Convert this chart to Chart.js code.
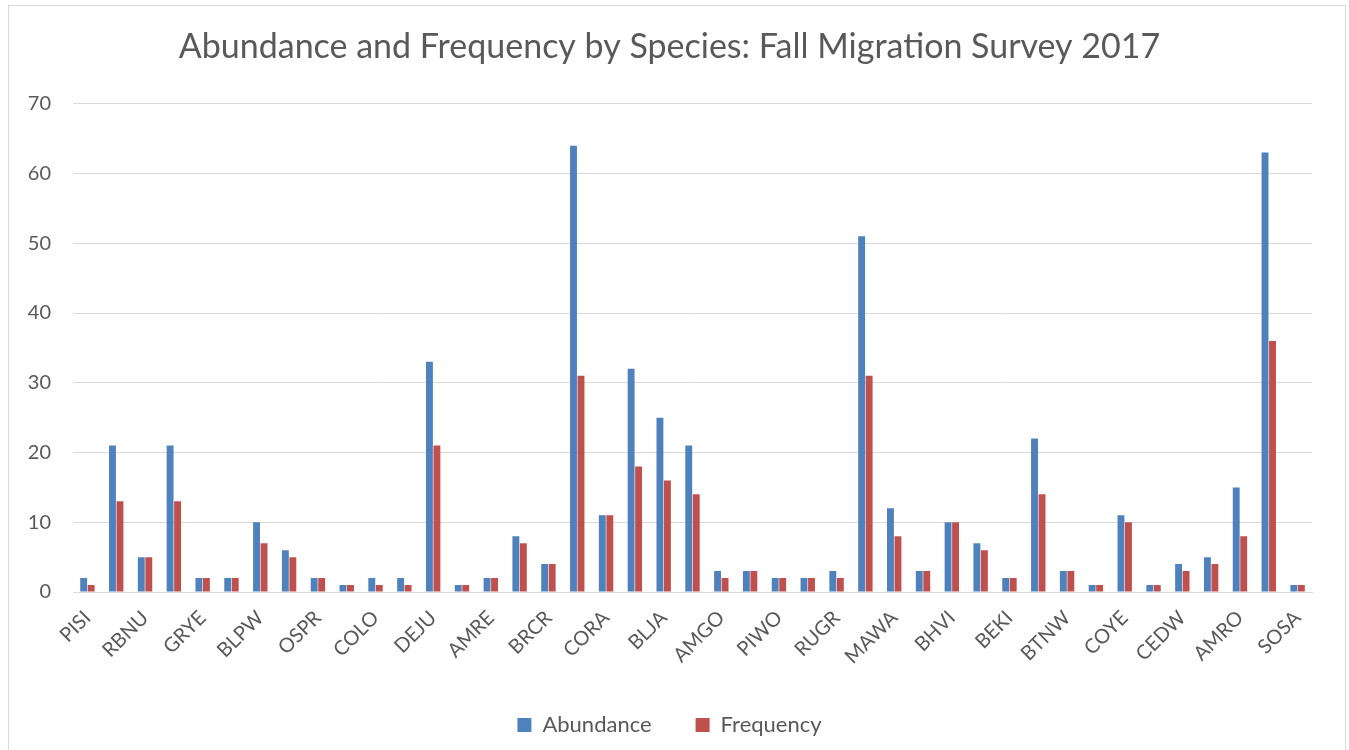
<!DOCTYPE html>
<html lang="en">
<head>
  <meta charset="UTF-8" />
  <title>Abundance and Frequency by Species</title>
  <script src="https://cdn.jsdelivr.net/npm/chart.js"></script>
  <style>
    body {
      margin: 0;
      background: #ffffff;
    }
    #frame {
      position: absolute;
      left: 8px;
      top: 5px;
      width: 1336px;
      height: 750px;
      border: 1px solid #d9d9d9;
    }
    canvas {
      display: block;
    }
  </style>
</head>
<body>
  <div id="frame">
    <canvas id="chart" width="1336" height="742"></canvas>
  </div>

  <script>
    // 43 species, only every other one is labelled on the axis
    const species = [
      'PISI', '', 'RBNU', '', 'GRYE', '', 'BLPW', '', 'OSPR', '', 'COLO', '',
      'DEJU', '', 'AMRE', '', 'BRCR', '', 'CORA', '', 'BLJA', '', 'AMGO', '',
      'PIWO', '', 'RUGR', '', 'MAWA', '', 'BHVI', '', 'BEKI', '', 'BTNW', '',
      'COYE', '', 'CEDW', '', 'AMRO', '', 'SOSA'
    ];
    const abundance = [2, 21, 5, 21, 2, 2, 10, 6, 2, 1, 2, 2, 33, 1, 2, 8, 4, 64, 11, 32, 25, 21,
                       3, 3, 2, 2, 3, 51, 12, 3, 10, 7, 2, 22, 3, 1, 11, 1, 4, 5, 15, 63, 1];
    const frequency = [1, 13, 5, 13, 2, 2, 7, 5, 2, 1, 1, 1, 21, 1, 2, 7, 4, 31, 11, 18, 16, 14,
                       2, 3, 2, 2, 2, 31, 8, 3, 10, 6, 2, 14, 3, 1, 10, 1, 3, 4, 8, 36, 1];

    const textColor = '#595959';
    const gridColor = '#d9d9d9';
    Chart.defaults.font.family = 'Lato, "Open Sans", sans-serif';
    Chart.defaults.color = textColor;

    const ctx = document.getElementById('chart').getContext('2d');
    const chart = new Chart(ctx, {
      type: 'bar',
      data: {
        labels: species,
        datasets: [
          {
            label: 'Abundance',
            data: abundance,
            backgroundColor: '#4f81bd',
            categoryPercentage: 0.52,
            barPercentage: 0.92
          },
          {
            label: 'Frequency',
            data: frequency,
            backgroundColor: '#c0504d',
            categoryPercentage: 0.52,
            barPercentage: 0.92
          }
        ]
      },
      options: {
        responsive: false,
        animation: false,
        layout: {
          padding: { left: 18, right: 33, top: 0, bottom: 2 }
        },
        scales: {
          x: {
            grid: { display: false },
            border: { color: gridColor, width: 1 },
            ticks: {
              autoSkip: false,
              minRotation: 45,
              maxRotation: 45,
              padding: 6,
              font: { size: 20 }
            },
            // fixed height, and don't push the plot right for the rotated first label
            afterFit: (scale) => {
              scale.height = 78;
              scale.paddingLeft = 0;
            }
          },
          y: {
            min: 0,
            max: 70,
            ticks: {
              stepSize: 10,
              padding: 22,
              font: { size: 20 }
            },
            grid: { color: gridColor, drawTicks: false },
            border: { display: false },
            afterFit: (scale) => { scale.width = 46; }
          }
        },
        plugins: {
          title: {
            display: true,
            text: 'Abundance and Frequency by Species: Fall Migration Survey 2017',
            color: textColor,
            font: { size: 34, weight: 'normal' },
            padding: { top: 21, bottom: 36 }
          },
          legend: {
            position: 'bottom',
            labels: {
              boxWidth: 14,
              boxHeight: 14,
              padding: 44,
              color: textColor,
              font: { size: 22 }
            }
          },
          tooltip: { enabled: false }
        }
      }
    });
  </script>
</body>
</html>
